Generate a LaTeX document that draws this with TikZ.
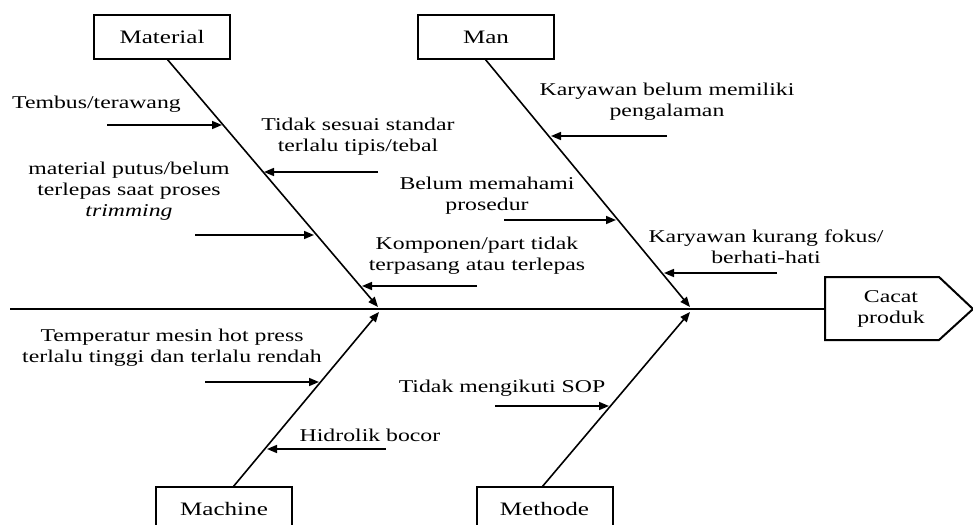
\documentclass[tikz,border=0pt]{standalone}
\usepackage{fontspec}
\setmainfont{Liberation Serif}[FakeStretch=1.32]
\usetikzlibrary{arrows.meta}
\tikzset{
  line/.style={line width=1.6pt},
  arr/.style={line width=1.6pt,-{Triangle[length=10pt,width=8pt]}},
  catbox/.style={draw,line width=2pt,minimum width=136pt,minimum height=44pt,inner sep=0pt,font=\fontsize{19}{21}\selectfont},
  lbl/.style={align=center,inner sep=0pt,font=\fontsize{18}{21}\selectfont}
}
\begin{document}
\begin{tikzpicture}[x=1pt,y=-1pt]
\useasboundingbox (0,0) rectangle (973,524);
% category boxes
\node[catbox] (material) at (162,37) {Material};
\node[catbox] (man) at (486,37) {Man};
\node[catbox] (machine) at (224,509) {Machine};
\node[catbox] (methode) at (544.5,509) {Methode};
% effect
\coordinate (spineL) at (10,309);
\coordinate (effL) at (825,309);
\draw[line width=2pt] (825,277) -- (939,277) -- (973,309) -- (939,340) -- (825,340) -- cycle;
\node[lbl] (effect) at (891,309) {Cacat\\produk};
\draw[line] (spineL) -- (effL);
% bone ends
\coordinate (matT) at (378,307);
\coordinate (manT) at (690,307);
\coordinate (macT) at (379,312);
\coordinate (metT) at (690,312);
\coordinate (matS) at (167,59);
\coordinate (manS) at (485,59);
\coordinate (macS) at (233,487);
\coordinate (metS) at (542,487);
\draw[arr] (matS) -- (matT);
\draw[arr] (manS) -- (manT);
\draw[arr] (macS) -- (macT);
\draw[arr] (metS) -- (metT);
% Material causes
\node[lbl,anchor=west] (t1) at (12,104) {Tembus/terawang};
\coordinate (a1s) at (107,125); \coordinate (a1e) at (222,125);
\draw[arr] (a1s) -- (a1e);
\node[lbl] (t2) at (358,137) {Tidak sesuai standar\\terlalu tipis/tebal};
\coordinate (a2s) at (378,172); \coordinate (a2e) at (264,172);
\draw[arr] (a2s) -- (a2e);
\node[lbl] (t3) at (129,191) {material putus/belum\\terlepas saat proses\\\textit{trimming}};
\coordinate (a3s) at (195,235); \coordinate (a3e) at (314,235);
\draw[arr] (a3s) -- (a3e);
\node[lbl] (t4) at (477,256) {Komponen/part tidak\\terpasang atau terlepas};
\coordinate (a4s) at (477,286); \coordinate (a4e) at (362,286);
\draw[arr] (a4s) -- (a4e);
% Man causes
\node[lbl] (t5) at (667,102) {Karyawan belum memiliki\\pengalaman};
\coordinate (a5s) at (667,136); \coordinate (a5e) at (551,136);
\draw[arr] (a5s) -- (a5e);
\node[lbl] (t6) at (487,196) {Belum memahami\\prosedur};
\coordinate (a6s) at (504,220); \coordinate (a6e) at (616,220);
\draw[arr] (a6s) -- (a6e);
\node[lbl] (t7) at (766,247) {Karyawan kurang fokus/\\berhati-hati};
\coordinate (a7s) at (777,273); \coordinate (a7e) at (664,273);
\draw[arr] (a7s) -- (a7e);
% Machine causes
\node[lbl] (t8) at (172,348) {Temperatur mesin hot press\\terlalu tinggi dan terlalu rendah};
\coordinate (a8s) at (205,382); \coordinate (a8e) at (319,382);
\draw[arr] (a8s) -- (a8e);
\node[lbl] (t9) at (370,435) {Hidrolik bocor};
\coordinate (a9s) at (386,449); \coordinate (a9e) at (267,449);
\draw[arr] (a9s) -- (a9e);
% Methode causes
\node[lbl] (t10) at (502,388) {Tidak mengikuti SOP};
\coordinate (a10s) at (495,406); \coordinate (a10e) at (609,406);
\draw[arr] (a10s) -- (a10e);
\end{tikzpicture}
\end{document}
